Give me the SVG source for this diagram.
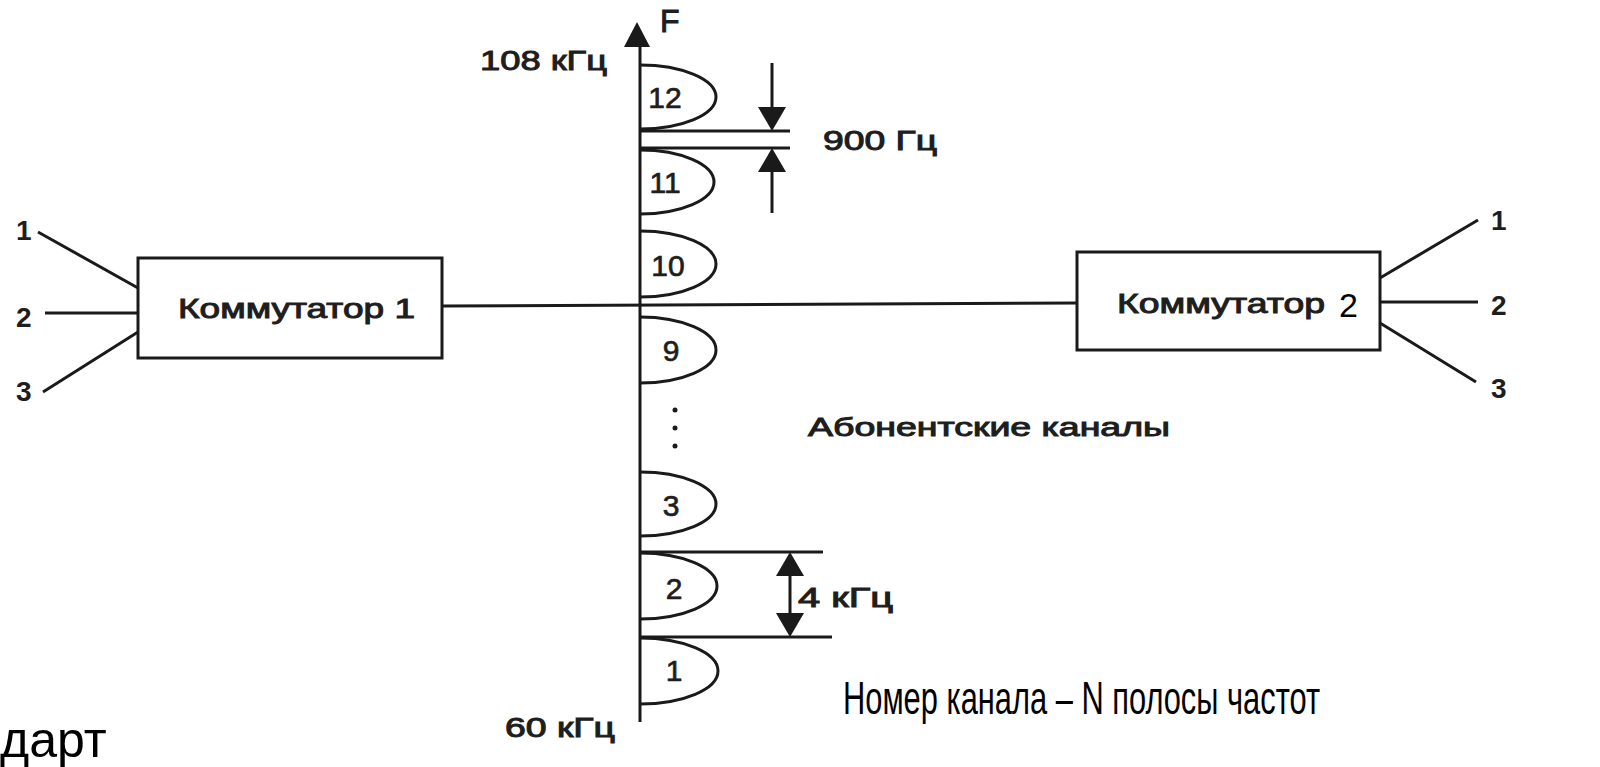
<svg xmlns="http://www.w3.org/2000/svg" width="1600" height="767" viewBox="0 0 1600 767">
<style>
.ln{stroke:#1a1a1a;stroke-width:3;fill:none;stroke-linecap:butt}
.lobe{stroke:#1a1a1a;stroke-width:3;fill:none}
.lbl{font-family:"Liberation Sans",Arial,sans-serif;font-weight:normal;fill:#1e1e1e;stroke:#1e1e1e;stroke-width:1}
.side{font-family:"Liberation Sans",Arial,sans-serif;font-weight:bold;fill:#1e1e1e}
.num{font-family:"Liberation Sans",Arial,sans-serif;font-size:30px;fill:#1e1e1e;text-anchor:middle;stroke:#1e1e1e;stroke-width:0.7}
.head{fill:#1a1a1a;stroke:none}
.big{font-family:"Liberation Sans",Arial,sans-serif;fill:#000}
</style>
<rect width="1600" height="767" fill="#fff"/>

<g id="connectors">
  <line class="ln" x1="640" y1="40" x2="640" y2="722"/>
  <polygon class="head" points="637,22 650,47 624,47"/>
  <line class="ln" x1="442" y1="306" x2="1077" y2="303"/>
  <line class="ln" x1="38" y1="232" x2="138" y2="288"/>
  <line class="ln" x1="45" y1="313" x2="138" y2="313"/>
  <line class="ln" x1="43" y1="392" x2="138" y2="332"/>
  <line class="ln" x1="1380" y1="278" x2="1478" y2="220"/>
  <line class="ln" x1="1380" y1="302" x2="1478" y2="302"/>
  <line class="ln" x1="1380" y1="323" x2="1476" y2="382"/>
  <line class="ln" x1="640" y1="131" x2="790" y2="131"/>
  <line class="ln" x1="640" y1="148" x2="790" y2="148"/>
  <line class="ln" x1="772" y1="63" x2="772" y2="110"/>
  <polygon class="head" points="772,131 758,107 786,107"/>
  <line class="ln" x1="772" y1="170" x2="772" y2="213"/>
  <polygon class="head" points="772,148 758,172 786,172"/>
  <line class="ln" x1="640" y1="552" x2="823" y2="552"/>
  <line class="ln" x1="640" y1="637" x2="832" y2="637"/>
  <line class="ln" x1="790" y1="572" x2="790" y2="617"/>
  <polygon class="head" points="790,552 776,576 804,576"/>
  <polygon class="head" points="790,637 776,613 804,613"/>
</g>

<g id="switch1">
  <rect class="ln" x="138" y="258" width="304" height="100" fill="#fff"/>
  <text class="lbl" x="178" y="318" font-size="28" textLength="237" lengthAdjust="spacingAndGlyphs">Коммутатор 1</text>
</g>

<g id="switch2">
  <rect class="ln" x="1077" y="252" width="303" height="98" fill="#fff"/>
  <text class="lbl" x="1117" y="313" font-size="28" textLength="208" lengthAdjust="spacingAndGlyphs">Коммутатор</text>
  <text class="big" x="1339" y="317" font-size="34" fill="#222">2</text>
</g>

<g id="inputs">
  <text class="side" x="16" y="240" font-size="28">1</text>
  <text class="side" x="16" y="327" font-size="28">2</text>
  <text class="side" x="16" y="401" font-size="28">3</text>
</g>
<g id="outputs">
  <text class="side" x="1491" y="230" font-size="28">1</text>
  <text class="side" x="1491" y="315" font-size="28">2</text>
  <text class="side" x="1491" y="398" font-size="28">3</text>
</g>

<g id="channels">
  <path class="lobe" d="M640,65 A76,32 0 0 1 640,129"/>
  <path class="lobe" d="M640,150 A74,32 0 0 1 640,214"/>
  <path class="lobe" d="M640,231 A76,33 0 0 1 640,297"/>
  <path class="lobe" d="M640,317 A76,33 0 0 1 640,383"/>
  <path class="lobe" d="M640,472 A76,32 0 0 1 640,536"/>
  <path class="lobe" d="M640,553 A77,33 0 0 1 640,619"/>
  <path class="lobe" d="M640,638 A78,33 0 0 1 640,704"/>
  <text class="num" x="665" y="108">12</text>
  <text class="num" x="665" y="193">11</text>
  <text class="num" x="668" y="276">10</text>
  <text class="num" x="671" y="361">9</text>
  <text class="num" x="671" y="516">3</text>
  <text class="num" x="674" y="599">2</text>
  <text class="num" x="674" y="681">1</text>
  <circle cx="675" cy="410" r="2.5" fill="#1a1a1a"/>
  <circle cx="675" cy="428" r="2.5" fill="#1a1a1a"/>
  <circle cx="675" cy="446" r="2.5" fill="#1a1a1a"/>
</g>

<g id="axis-labels">
  <text class="lbl" x="660" y="32" font-size="32">F</text>
  <text class="lbl" x="480" y="70" font-size="28" textLength="127" lengthAdjust="spacingAndGlyphs">108 кГц</text>
  <text class="lbl" x="505" y="737" font-size="27" textLength="110" lengthAdjust="spacingAndGlyphs">60 кГц</text>
  <text class="lbl" x="823" y="150" font-size="27" textLength="114" lengthAdjust="spacingAndGlyphs">900 Гц</text>
  <text class="lbl" x="798" y="607" font-size="27" textLength="95" lengthAdjust="spacingAndGlyphs">4 кГц</text>
  <text class="lbl" x="808" y="436" font-size="26" textLength="362" lengthAdjust="spacingAndGlyphs">Абонентские каналы</text>
</g>

<g id="captions">
  <text class="big" x="843" y="714" font-size="46" textLength="477" lengthAdjust="spacingAndGlyphs">Номер канала – N полосы частот</text>
  <text class="big" x="0" y="757" font-size="50">дарт</text>
</g>
</svg>
